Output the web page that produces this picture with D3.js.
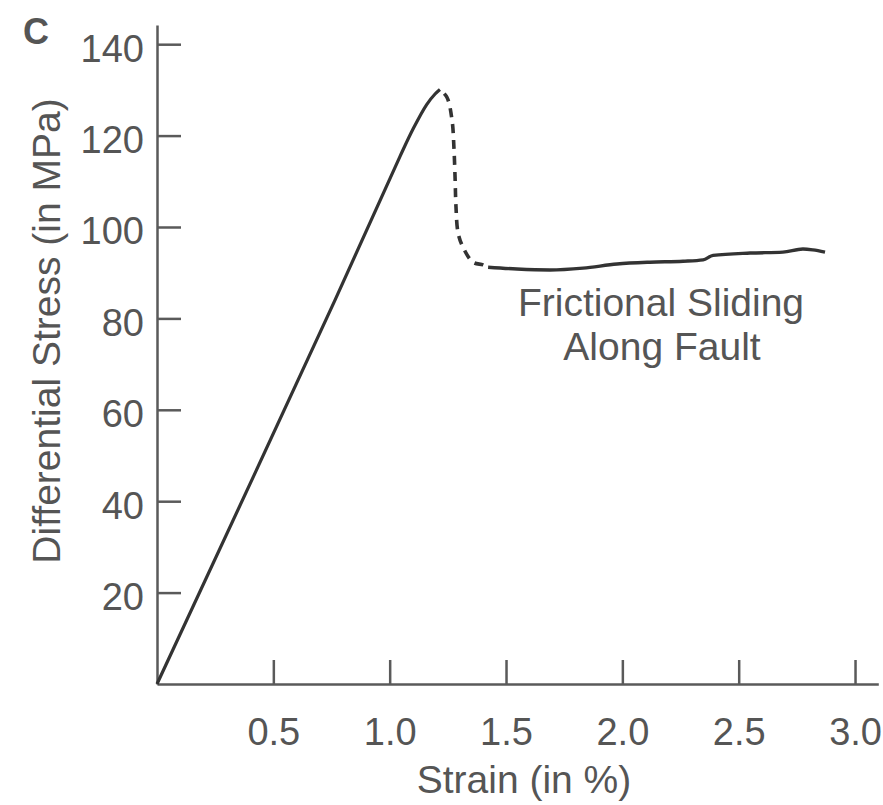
<!DOCTYPE html>
<html>
<head>
<meta charset="utf-8">
<script src="https://cdn.jsdelivr.net/npm/d3@7"></script>
<style>
  body { margin: 0; background: #fff; }
  svg text { font-family: "Liberation Sans", Arial, Helvetica, sans-serif; }
</style>
</head>
<body>
<svg id="svgcanvas" width="883" height="805"></svg>
<script>
// tick labels
var xTicks = [0.5, 1.0, 1.5, 2.0, 2.5, 3.0];
var yTicks = [20, 40, 60, 80, 100, 120, 140];

// elastic loading up to the peak (strain %, stress MPa)
var riseStrain = [0, 0.765, 1.044, 1.102, 1.159, 1.195, 1.216];
var riseStress = [0, 84.0, 115.4, 121.6, 126.8, 129.1, 130.1];

// stress drop at failure (dashed)
var dropStrain = [1.216, 1.246, 1.268, 1.276, 1.281, 1.285, 1.294, 1.315, 1.358, 1.401, 1.418];
var dropStress = [130.1, 128.4, 123.4, 117.5, 110.9, 104.4, 98.7, 95.6, 92.3, 91.7, 91.2];

// frictional sliding plateau
var slideStrain = [1.423, 1.547, 1.689, 1.831, 1.977, 2.119, 2.261, 2.347, 2.390, 2.549, 2.690, 2.776, 2.819, 2.871];
var slideStress = [91.2, 90.8, 90.6, 91.0, 91.9, 92.3, 92.5, 92.8, 93.8, 94.3, 94.5, 95.2, 95.0, 94.5];

var svg = d3.select("#svgcanvas");
var textColor = "#555";
var axisColor = "#5a5a5a";

var x = d3.scaleLinear().domain([0, 3.1]).range([157, 878.3]);
var y = d3.scaleLinear().domain([0, 144.2]).range([684, 25]);

// x axis, ticks pointing up into the plot
var gx = svg.append("g")
    .attr("transform", "translate(0," + y(0) + ")")
    .call(d3.axisBottom(x)
      .tickValues(xTicks)
      .tickFormat(d3.format(".1f"))
      .tickSizeInner(-24)
      .tickSizeOuter(0));
gx.selectAll("text")
    .attr("y", 61).attr("dy", 0)
    .attr("font-size", 38).attr("fill", textColor);

// y axis, ticks pointing right
var gy = svg.append("g")
    .attr("transform", "translate(" + x(0) + ",0)")
    .call(d3.axisLeft(y)
      .tickValues(yTicks)
      .tickSizeInner(-24)
      .tickSizeOuter(0)
      .tickPadding(13));
gy.selectAll("text")
    .attr("dy", 17)
    .attr("font-size", 38).attr("fill", textColor);

svg.selectAll(".domain, .tick line")
    .attr("stroke", axisColor)
    .attr("stroke-width", 2.5);

// curves
function zip(a, b) { return a.map(function(v, i) { return [v, b[i]]; }); }

function makeLine(curve) {
  return d3.line()
    .x(function(d) { return x(d[0]); })
    .y(function(d) { return y(d[1]); })
    .curve(curve);
}

var curveColor = "#333";

svg.append("path")
    .datum(zip(riseStrain, riseStress))
    .attr("d", makeLine(d3.curveCatmullRom.alpha(0.5)))
    .attr("fill", "none")
    .attr("stroke", curveColor)
    .attr("stroke-width", 3.2);

svg.append("path")
    .datum(zip(dropStrain, dropStress))
    .attr("d", makeLine(d3.curveCatmullRom.alpha(0.5)))
    .attr("fill", "none")
    .attr("stroke", curveColor)
    .attr("stroke-width", 3.6)
    .attr("stroke-dasharray", "9,7")
    .attr("stroke-dashoffset", -6);

svg.append("path")
    .datum(zip(slideStrain, slideStress))
    .attr("d", makeLine(d3.curveMonotoneX))
    .attr("fill", "none")
    .attr("stroke", curveColor)
    .attr("stroke-width", 3.4);

// annotation
var note = svg.append("text")
    .attr("text-anchor", "middle")
    .attr("font-size", 39)
    .attr("fill", textColor);
note.append("tspan").attr("x", 661).attr("y", 316).text("Frictional Sliding");
note.append("tspan").attr("x", 662).attr("y", 360).text("Along Fault");

// axis titles
svg.append("text")
    .attr("x", 524).attr("y", 793)
    .attr("text-anchor", "middle")
    .attr("font-size", 39)
    .attr("fill", textColor)
    .text("Strain (in %)");

svg.append("text")
    .attr("transform", "translate(60,331) rotate(-90)")
    .attr("text-anchor", "middle")
    .attr("font-size", 39)
    .attr("fill", textColor)
    .text("Differential Stress (in MPa)");

// panel letter
svg.append("text")
    .attr("x", 23).attr("y", 44)
    .attr("font-size", 36)
    .attr("font-weight", "bold")
    .attr("fill", textColor)
    .text("C");
</script>
</body>
</html>
